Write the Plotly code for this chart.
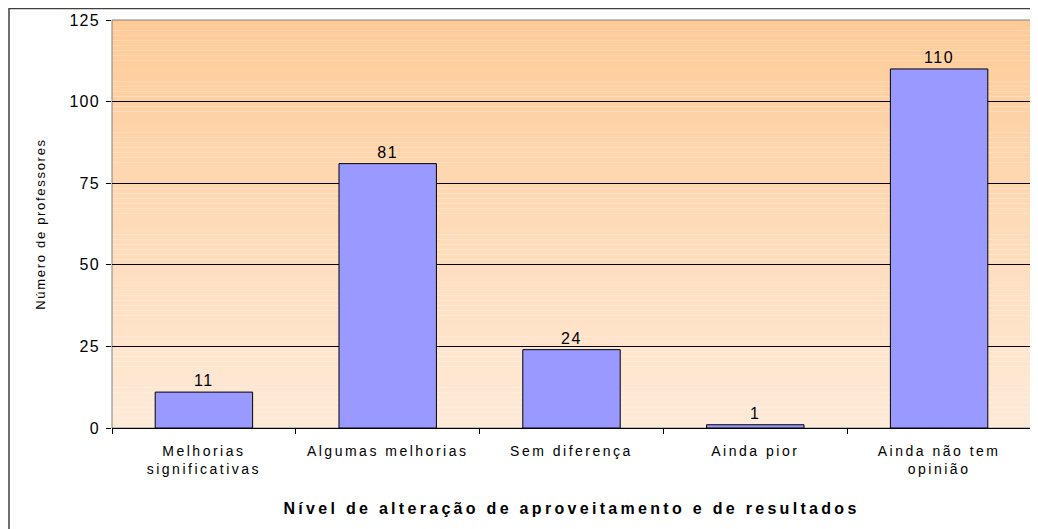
import plotly.graph_objects as go

categories = ["Melhorias<br>significativas", "Algumas melhorias", "Sem diferença",
              "Ainda pior", "Ainda não tem<br>opinião"]
values = [11, 81, 24, 1, 110]
y_ticks = [0, 25, 50, 75, 100, 125]
x_title = "Nível de alteração de aproveitamento e de resultados"
y_title = "Número de professores"


def spaced(s, sp):
    parts = s.split("<br>")
    return "<br>".join(f'<span style="letter-spacing:{sp}px">{p}</span>' for p in parts)


W, H = 1038, 529
# page is offset by 8px body margin; margins are set in figure coordinates
L, R, T, B = 104, 15, 12, 109
pw, ph = W - L - R, H - T - B


def fx(px):
    return (px - L) / pw


def fy(py):
    return (H - B - py) / ph


FONT = "Liberation Sans, Arial, sans-serif"

fig = go.Figure()
fig.add_trace(go.Bar(
    x=categories, y=values,
    marker=dict(color="#9999FF", line=dict(color="#000000", width=1)),
    text=[spaced(str(v), 1.5) for v in values], textposition="outside",
    textfont=dict(family=FONT, size=16, color="#000000"),
    cliponaxis=False,
))

shapes = []
n = 80
c0 = (254, 203, 152)  # top
c1 = (254, 234, 216)  # bottom
for i in range(n):
    t = i / (n - 1)
    r = round(c0[0] + (c1[0] - c0[0]) * t)
    g = round(c0[1] + (c1[1] - c0[1]) * t)
    b = round(c0[2] + (c1[2] - c0[2]) * t)
    shapes.append(dict(type="rect", xref="x domain", yref="y domain",
                       x0=0, x1=1, y0=1 - (i + 1) / n, y1=1 - i / n,
                       fillcolor=f"rgb({r},{g},{b})", line=dict(width=0), layer="below"))
shapes.append(dict(type="rect", xref="x domain", yref="y domain", x0=0, x1=1, y0=0, y1=1,
                   line=dict(color="#808080", width=1), fillcolor="rgba(0,0,0,0)", layer="below"))
shapes.append(dict(type="rect", xref="paper", yref="paper",
                   x0=fx(1), x1=fx(1060), y0=fy(560), y1=fy(0.5),
                   line=dict(color="#404040", width=1.5), fillcolor="rgba(0,0,0,0)", layer="above"))

fig.update_layout(
    width=W, height=H,
    margin=dict(l=L, r=R, t=T, b=B, autoexpand=False),
    paper_bgcolor="#FFFFFF", plot_bgcolor="rgba(0,0,0,0)",
    showlegend=False, bargap=0.47,
    font=dict(family=FONT, size=16, color="#000000"),
    shapes=shapes,
    xaxis=dict(
        automargin=False,
        showgrid=False, showline=True, linecolor="#000000", linewidth=1,
        ticks="outside", tickson="boundaries", ticklen=5, tickcolor="#000000",
        tickfont=dict(size=14), ticklabelstandoff=10,
        tickmode="array", tickvals=categories, ticktext=[spaced(c, 2.5) for c in categories],
        title=dict(text="<b>" + spaced(x_title, 3.3) + "</b>",
                   font=dict(size=16), standoff=26),
    ),
    yaxis=dict(
        automargin=False,
        range=[0, 125], tickvals=y_ticks, ticktext=[spaced(str(v), 1.2) for v in y_ticks],
        showgrid=True, gridcolor="#000000", gridwidth=1,
        showline=False, ticks="outside", ticklen=5, tickcolor="#000000",
        tickfont=dict(size=16), zeroline=False, ticklabelstandoff=3,
        title=dict(text=spaced(y_title, 1.7),
                   font=dict(size=13), standoff=20),
    ),
)

fig.write_html("out.html")
